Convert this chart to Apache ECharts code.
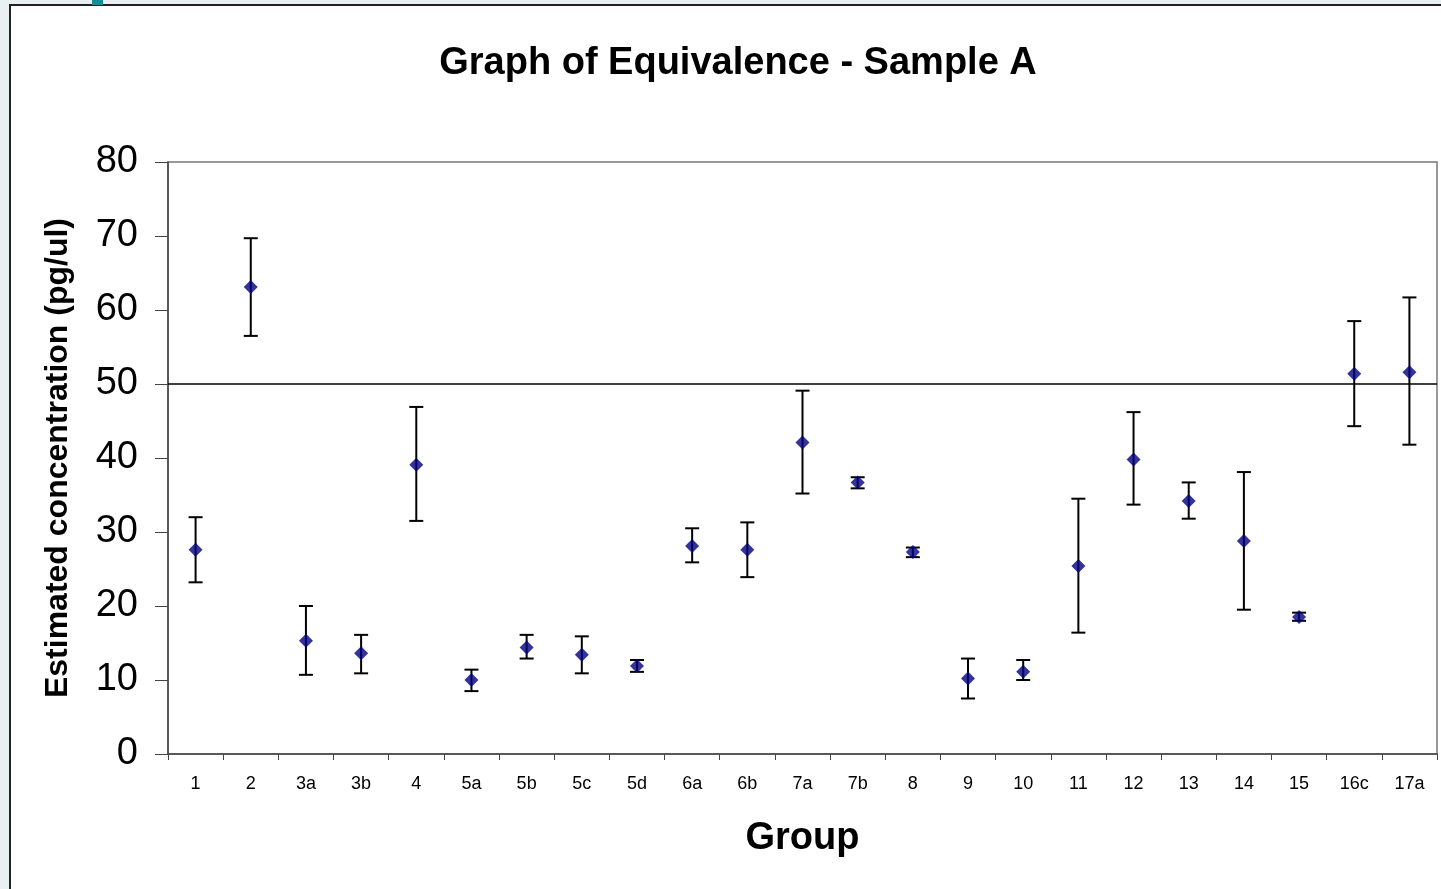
<!DOCTYPE html>
<html>
<head>
<meta charset="utf-8">
<title>Graph of Equivalence - Sample A</title>
<script src="https://cdn.jsdelivr.net/npm/echarts@6/dist/echarts.min.js"></script>
<style>
  html, body { margin: 0; padding: 0; background: #fff; }
  #chart { width: 1441px; height: 889px; }
</style>
</head>
<body>
<div id="chart"></div>
<script>
// groups on the x axis
var groups = ['1', '2', '3a', '3b', '4', '5a', '5b', '5c', '5d', '6a', '6b', '7a', '7b', '8', '9', '10', '11', '12', '13', '14', '15', '16c', '17a'];
// estimated concentration (pg/ul)
var means = [27.6, 63.1, 15.3, 13.6, 39.1, 10.0, 14.4, 13.4, 11.9, 28.1, 27.6, 42.1, 36.7, 27.3, 10.2, 11.1, 25.4, 39.8, 34.2, 28.8, 18.5, 51.4, 51.6];
// error bar ends
var upper = [32.0, 69.7, 20.0, 16.1, 46.9, 11.4, 16.1, 15.9, 12.7, 30.5, 31.3, 49.1, 37.4, 27.9, 12.9, 12.7, 34.5, 46.2, 36.7, 38.1, 19.1, 58.5, 61.7];
var lower = [23.2, 56.5, 10.7, 10.9, 31.5, 8.5, 12.9, 10.9, 11.1, 25.9, 23.9, 35.2, 35.9, 26.6, 7.5, 10.0, 16.4, 33.7, 31.8, 19.5, 18.0, 44.3, 41.8];
var yTicks = [0, 10, 20, 30, 40, 50, 60, 70, 80];
var refValue = 50;

var myChart = echarts.init(document.getElementById('chart'));

var barData = groups.map(function (g, i) {
    return [i, lower[i], upper[i]];
});

var option = {
    animation: false,
    backgroundColor: '#e9f0f2',
    graphic: [
        {
            type: 'rect',
            z: -10,
            shape: { x: 10, y: 5, width: 1440, height: 900 },
            style: { fill: '#ffffff', stroke: '#222', lineWidth: 2 }
        },
        {
            type: 'rect',
            z: -9,
            shape: { x: 92, y: 0, width: 11, height: 5 },
            style: { fill: '#1a8a96' }
        }
    ],
    title: {
        text: 'Graph of Equivalence - Sample A',
        left: 733,
        top: 40,
        textAlign: 'center',
        textStyle: {
            fontFamily: 'Liberation Sans, Arial, sans-serif',
            fontSize: 38,
            fontWeight: 'bold',
            color: '#000'
        }
    },
    grid: {
        left: 168,
        right: 4,
        top: 162,
        bottom: 135,
        show: true,
        borderColor: '#777',
        borderWidth: 1.5,
        backgroundColor: '#fff'
    },
    xAxis: {
        type: 'category',
        data: groups,
        name: 'Group',
        nameLocation: 'middle',
        nameGap: 66,
        nameTextStyle: {
            fontFamily: 'Liberation Sans, Arial, sans-serif',
            fontSize: 38,
            fontWeight: 'bold',
            color: '#000'
        },
        axisLine: { show: true, lineStyle: { color: '#444', width: 1.5 } },
        axisTick: { show: true, length: 6, lineStyle: { color: '#444' } },
        axisLabel: {
            fontFamily: 'Liberation Sans, Arial, sans-serif',
            fontSize: 18,
            color: '#000',
            margin: 21,
            interval: 0
        },
        splitLine: { show: false }
    },
    yAxis: {
        type: 'value',
        min: yTicks[0],
        max: yTicks[yTicks.length - 1],
        interval: 10,
        name: 'Estimated concentration (pg/ul)',
        nameLocation: 'middle',
        nameGap: 94,
        nameTextStyle: {
            fontFamily: 'Liberation Sans, Arial, sans-serif',
            fontSize: 32,
            fontWeight: 'bold',
            color: '#000'
        },
        axisLine: { show: true, lineStyle: { color: '#444', width: 1.5 } },
        axisTick: { show: true, length: 13, lineStyle: { color: '#444' } },
        axisLabel: {
            fontFamily: 'Liberation Sans, Arial, sans-serif',
            fontSize: 38,
            color: '#000',
            margin: 30
        },
        splitLine: { show: false }
    },
    series: [
        {
            name: 'error',
            type: 'custom',
            data: barData,
            z: 2,
            renderItem: function (params, api) {
                var idx = api.value(0);
                var top = api.coord([idx, api.value(2)]);
                var bot = api.coord([idx, api.value(1)]);
                var half = 7;
                var st = { stroke: '#000', lineWidth: 2 };
                return {
                    type: 'group',
                    children: [
                        { type: 'line', shape: { x1: top[0], y1: top[1], x2: bot[0], y2: bot[1] }, style: st },
                        { type: 'line', shape: { x1: top[0] - half, y1: top[1], x2: top[0] + half, y2: top[1] }, style: st },
                        { type: 'line', shape: { x1: bot[0] - half, y1: bot[1], x2: bot[0] + half, y2: bot[1] }, style: st }
                    ]
                };
            }
        },
        {
            name: 'Estimate',
            type: 'scatter',
            data: means,
            z: 3,
            symbol: 'diamond',
            symbolSize: [14, 14],
            itemStyle: { color: '#000080' },
            markLine: {
                silent: true,
                symbol: 'none',
                label: { show: false },
                lineStyle: { color: '#000', width: 1.5, type: 'solid' },
                data: [{ yAxis: refValue }]
            }
        }
    ]
};

myChart.setOption(option);
</script>
</body>
</html>
